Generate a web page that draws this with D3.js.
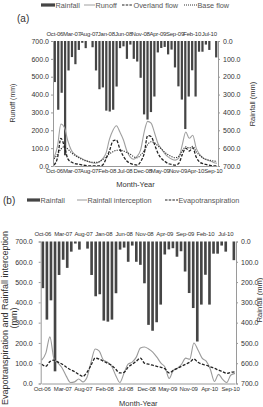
<!DOCTYPE html>
<html>
<head>
<meta charset="utf-8">
<script src="https://cdn.jsdelivr.net/npm/d3@7"></script>
<style>
body { margin: 0; background: #fff; }
text { font-family: Arial, "Liberation Sans", sans-serif; }
</style>
</head>
<body>
<div id="chart"></div>
<script>
// monthly categories Oct-06 .. Sep-10
const months = ["Oct-06","Nov-06","Dec-06","Jan-07","Feb-07","Mar-07","Apr-07","May-07","Jun-07","Jul-07","Aug-07","Sep-07",
  "Oct-07","Nov-07","Dec-07","Jan-08","Feb-08","Mar-08","Apr-08","May-08","Jun-08","Jul-08","Aug-08","Sep-08",
  "Oct-08","Nov-08","Dec-08","Jan-09","Feb-09","Mar-09","Apr-09","May-09","Jun-09","Jul-09","Aug-09","Sep-09",
  "Oct-09","Nov-09","Dec-09","Jan-10","Feb-10","Mar-10","Apr-10","May-10","Jun-10","Jul-10","Aug-10","Sep-10"];
const topTickIdx = [0, 5, 10, 15, 20, 25, 30, 35, 40, 45];
const bottomTickLabels = ["Oct-06","Mar-07","Aug-07","Feb-08","Jul-08","Dec-08","May-09","Nov-09","Apr-10","Sep-10"];
const bottomTickPos = [0, 5, 10, 15.2, 20.3, 25.4, 30.5, 35.6, 40.7, 45.8];
const leftTicks = [0, 100, 200, 300, 400, 500, 600, 700];

// rainfall (mm), bars hanging from the top
const rainfall = [230,385,290,640,165,90,130,50,10,40,0,35,
  165,270,260,390,395,385,255,40,30,100,20,100,
  115,206,411,440,398,311,64,39,33,75,48,148,
  254,328,493,311,164,311,60,60,20,50,0,92];

// panel (a) flows (mm)
const runoff = [46,110,235,215,140,88,65,52,42,32,24,18,
  15,22,40,72,150,200,225,190,147,85,50,38,
  55,92,190,250,240,185,125,95,68,50,38,33,
  45,120,190,155,172,100,65,44,35,28,20,15];
const overland = [5,45,155,110,40,22,14,10,6,3,1,0,
  0,0,5,40,85,140,145,95,55,28,15,8,
  5,25,70,170,165,120,70,42,25,13,8,5,
  15,65,100,84,102,50,22,13,8,4,1,0];
const baseflow = [40,65,95,108,95,75,60,48,38,30,25,21,
  20,24,35,50,68,80,88,88,85,76,66,52,
  46,62,85,120,136,130,112,95,76,62,52,46,
  55,85,108,100,110,80,60,45,37,32,28,26];

// panel (b) (mm)
const interception = [115,150,230,120,100,75,35,5,8,22,8,30,
  105,170,160,115,105,85,40,5,50,95,105,130,
  175,180,170,155,130,100,80,25,65,75,95,125,
  120,200,165,125,110,70,10,45,20,5,42,50];
const evapo = [95,85,108,115,105,95,80,68,58,45,35,55,
  90,125,120,110,100,90,70,52,55,80,95,110,
  125,100,95,90,85,80,72,52,65,75,85,95,
  105,120,105,95,90,82,75,66,58,50,55,58];

const svg = d3.select("#chart").append("svg")
  .attr("width", 263).attr("height", 407);

const axisColor = "#9a9a9a", textColor = "#333";

function drawPanel(p) {
  const g = svg.append("g");
  const xb = d3.scaleBand().domain(d3.range(months.length))
    .range([p.left, p.right]).paddingInner(0.35).paddingOuter(0.2);
  const xl = d3.scaleLinear().domain([0, months.length - 1]).range([p.left + 1, p.right - 1]);
  const yL = d3.scaleLinear().domain([0, 700]).range([p.bottom, p.top]);
  const yR = d3.scaleLinear().domain([0, 700]).range([p.top, p.bottom]);

  // rainfall bars
  g.append("g").selectAll("rect").data(rainfall).join("rect")
    .attr("x", (d, i) => xb(i))
    .attr("y", yR(0))
    .attr("width", xb.bandwidth())
    .attr("height", d => yR(d) - yR(0))
    .attr("fill", "#454545");

  // lines
  p.series.forEach(s => {
    const line = d3.line().x((d, i) => xl(i)).y(d => yL(d)).curve(d3.curveMonotoneX);
    g.append("path").datum(s.values)
      .attr("d", line)
      .attr("fill", "none")
      .attr("stroke", s.color)
      .attr("stroke-width", s.width)
      .attr("stroke-dasharray", s.dash || null);
  });

  // axes
  const left = g.append("g").attr("transform", `translate(${p.left},0)`)
    .call(d3.axisLeft(yL).tickValues(leftTicks).tickFormat(d3.format(".1f")).tickSize(2).tickPadding(p.leftPad));
  const right = g.append("g").attr("transform", `translate(${p.right},0)`)
    .call(d3.axisRight(yR).tickValues(leftTicks).tickFormat(d3.format(".1f")).tickSize(2).tickPadding(3));
  const bottom = g.append("g").attr("transform", `translate(0,${p.bottom})`)
    .call(d3.axisBottom(xl).tickValues(bottomTickPos).tickFormat((d, i) => bottomTickLabels[i]).tickSize(0).tickPadding(3));
  const top = g.append("g").attr("transform", `translate(0,${p.top})`)
    .call(d3.axisTop(xb).tickValues(topTickIdx).tickFormat(i => months[i]).tickSize(0).tickPadding(p.topPad));
  top.select(".domain").remove();

  [left, right, bottom].forEach(a => {
    a.select(".domain").attr("stroke", axisColor);
    a.selectAll(".tick line").attr("stroke", axisColor);
  });
  [left, right].forEach(a => a.selectAll("text").attr("font-size", 7).attr("fill", textColor));
  [bottom, top].forEach(a => a.selectAll("text").attr("font-size", 6).attr("fill", textColor).attr("letter-spacing", -0.2));

  // titles
  g.append("text").attr("x", (p.left + p.right) / 2).attr("y", p.xTitleY)
    .attr("text-anchor", "middle").attr("font-size", 7.5).attr("fill", textColor).text("Month-Year");
  p.leftTitle.forEach((t, k) => {
    g.append("text").attr("transform", `translate(${p.leftTitleX[k]},${p.leftTitleY}) rotate(-90)`)
      .attr("text-anchor", "middle").attr("font-size", p.leftTitleSize).attr("fill", textColor).text(t);
  });
  g.append("text").attr("transform", `translate(${p.rightTitleX},${p.rightTitleY}) rotate(-90)`)
    .attr("text-anchor", "middle").attr("font-size", 7.5).attr("fill", textColor).text("Rainfall (mm)");

  // panel tag
  g.append("text").attr("x", p.tagX).attr("y", p.tagY).attr("font-size", 10).attr("fill", textColor).text(p.tag);

  // legend
  const lg = g.append("g").attr("font-size", 7.3).attr("fill", "#555");
  p.legend.forEach(it => {
    if (it.type === "bar") {
      lg.append("rect").attr("x", it.x0).attr("y", p.legendY - 1.6).attr("width", it.x1 - it.x0).attr("height", 3.2).attr("fill", "#454545");
    } else {
      lg.append("line").attr("x1", it.x0).attr("x2", it.x1).attr("y1", p.legendY).attr("y2", p.legendY)
        .attr("stroke", it.color).attr("stroke-width", it.width).attr("stroke-dasharray", it.dash || null);
    }
    lg.append("text").attr("x", it.x1 + 0.5).attr("y", p.legendY + 2.6).text(it.label);
  });
}

drawPanel({
  left: 53, right: 218, top: 41, bottom: 166,
  leftPad: 2, topPad: 5,
  xTitleY: 187,
  leftTitle: ["Runoff (mm)"], leftTitleX: [15], leftTitleY: 103, leftTitleSize: 7,
  rightTitleX: 255, rightTitleY: 104,
  tag: "(a)", tagX: 17, tagY: 22,
  legendY: 5,
  series: [
    { values: runoff, color: "#a0a0a0", width: 1.1 },
    { values: overland, color: "#222", width: 1.3, dash: "3,1.5" },
    { values: baseflow, color: "#333", width: 1.1, dash: "1.2,1.2" }
  ],
  legend: [
    { type: "bar", x0: 41, x1: 55, label: "Rainfall" },
    { type: "line", x0: 84, x1: 95, color: "#a0a0a0", width: 1, label: "Runoff" },
    { type: "line", x0: 122, x1: 133, color: "#222", width: 1.2, dash: "2.5,1.2", label: "Overland flow" },
    { type: "line", x0: 184, x1: 197, color: "#333", width: 1, dash: "1,1", label: "Base flow" }
  ]
});

drawPanel({
  left: 40.7, right: 236, top: 241.5, bottom: 383.5,
  leftPad: 6, topPad: 6,
  xTitleY: 406,
  leftTitle: ["Evapotranspiration and Rainfall interception", "(mm)"], leftTitleX: [8, 16.5], leftTitleY: 318, leftTitleSize: 9,
  rightTitleX: 262, rightTitleY: 300,
  tag: "(b)", tagX: 3, tagY: 204,
  legendY: 200,
  series: [
    { values: interception, color: "#9a9a9a", width: 1.1 },
    { values: evapo, color: "#222", width: 1.3, dash: "3,1.5" }
  ],
  legend: [
    { type: "bar", x0: 27, x1: 40, label: "Rainfall" },
    { type: "line", x0: 77, x1: 87, color: "#9a9a9a", width: 1, label: "Rainfall interception" },
    { type: "line", x0: 165, x1: 178, color: "#222", width: 1.2, dash: "2.5,1.2", label: "Evapotranspiration" }
  ]
});
</script>
</body>
</html>
